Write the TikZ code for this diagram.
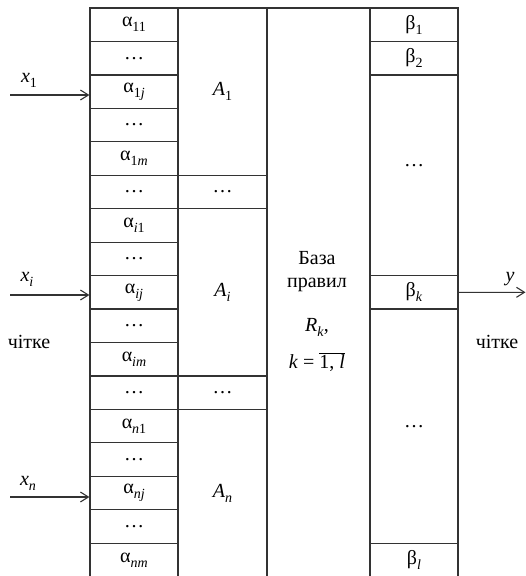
\documentclass[tikz,border=0pt]{standalone}
\usepackage{fontspec}
\setmainfont{Liberation Serif}
\usetikzlibrary{positioning,arrows.meta}

% lowered index in the main font
\newcommand\subix[1]{\raisebox{-0.25em}{\fontsize{14}{14}\selectfont #1}}
\newcommand\al[1]{α\subix{#1}}

\begin{document}
\begin{tikzpicture}[x=1pt,y=-1pt,font=\fontsize{20}{22}\selectfont,
  cell/.style={draw=black!80, line width=1.2pt, inner sep=0pt, minimum width=88pt, minimum height=33.45pt},
  inarrow/.style={draw=black!80, line width=1.1pt, -{Straight Barb[length=8pt,width=10pt]}}]
\useasboundingbox (0,0) rectangle (526,576);

% terms of the inputs
\foreach \lab [count=\i from 0] in {{\al{11}},\dots,{\al{1\textit{j}}},\dots,{\al{1\textit{m}}},\dots,
  {\al{\textit{i}1}},\dots,{\al{\textit{ij}}},\dots,{\al{\textit{im}}},\dots,
  {\al{\textit{n}1}},\dots,{\al{\textit{nj}}},\dots,{\al{\textit{nm}}}}
  \node[cell] (a\i) at (134,{8+(\i+0.5)*33.45}) {\lab};

% term sets
\node[cell, minimum width=89pt, minimum height=5*33.45pt] (A1) at (222.5,{8+2.5*33.45}) {\textit{A}\subix{1}};
\node[cell, minimum width=89pt] (Ad1) at (222.5,{8+5.5*33.45}) {\dots};
\node[cell, minimum width=89pt, minimum height=5*33.45pt] (Ai) at (222.5,{8+8.5*33.45}) {\textit{A}\subix{\textit{i}}};
\node[cell, minimum width=89pt] (Ad2) at (222.5,{8+11.5*33.45}) {\dots};
\node[cell, minimum width=89pt, minimum height=5*33.45pt] (An) at (222.5,{8+14.5*33.45}) {\textit{A}\subix{\textit{n}}};

% rule base
\node[cell, minimum width=103pt, minimum height=17*33.45pt] (base) at (318.5,{8+8.5*33.45}) {};
\node (t1) at (317,258) {База};
\node (t2) at (317,285) {правил};
\node (t3) at (317,327) {\textit{R}\subix{\textit{k}},};
\node (t4) at (317,362) {\textit{k} = $\overline{\mbox{1, \textit{l}}}$};

% output terms
\node[cell] (b1) at (414,{8+0.5*33.45}) {β\subix{1}};
\node[cell] (b2) at (414,{8+1.5*33.45}) {β\subix{2}};
\node[cell, minimum height=6*33.45pt] (bd1) at (414,{8+5*33.45}) {};
\node (bdt1) at (414,166) {\dots};
\node[cell] (bk) at (414,{8+8.5*33.45}) {β\subix{\textit{k}}};
\node[cell, minimum height=7*33.45pt] (bd2) at (414,{8+12.5*33.45}) {\dots};
\node[cell] (bl) at (414,{8+16.5*33.45}) {β\subix{\textit{l}}};

% inputs
\coordinate (x1s) at (10,95);
\coordinate (xis) at (10,295);
\coordinate (xns) at (10,497);
\draw[inarrow] (x1s) -- (x1s -| a2.west);
\draw[inarrow] (xis) -- (xis -| a8.west);
\draw[inarrow] (xns) -- (xns -| a14.west);
\node (x1) at (29,80) {\textit{x}\subix{1}};
\node (xi) at (27,279) {\textit{x}\subix{\textit{i}}};
\node (xn) at (28,483) {\textit{x}\subix{\textit{n}}};
\node (crl) at (29,342) {чітке};

% output
\coordinate (yend) at (525.5,292.3);
\draw[inarrow] (bk.east) -- (yend);
\node (y) at (510,279) {\textit{y}};
\node (crr) at (497,342) {чітке};
\end{tikzpicture}
\end{document}
